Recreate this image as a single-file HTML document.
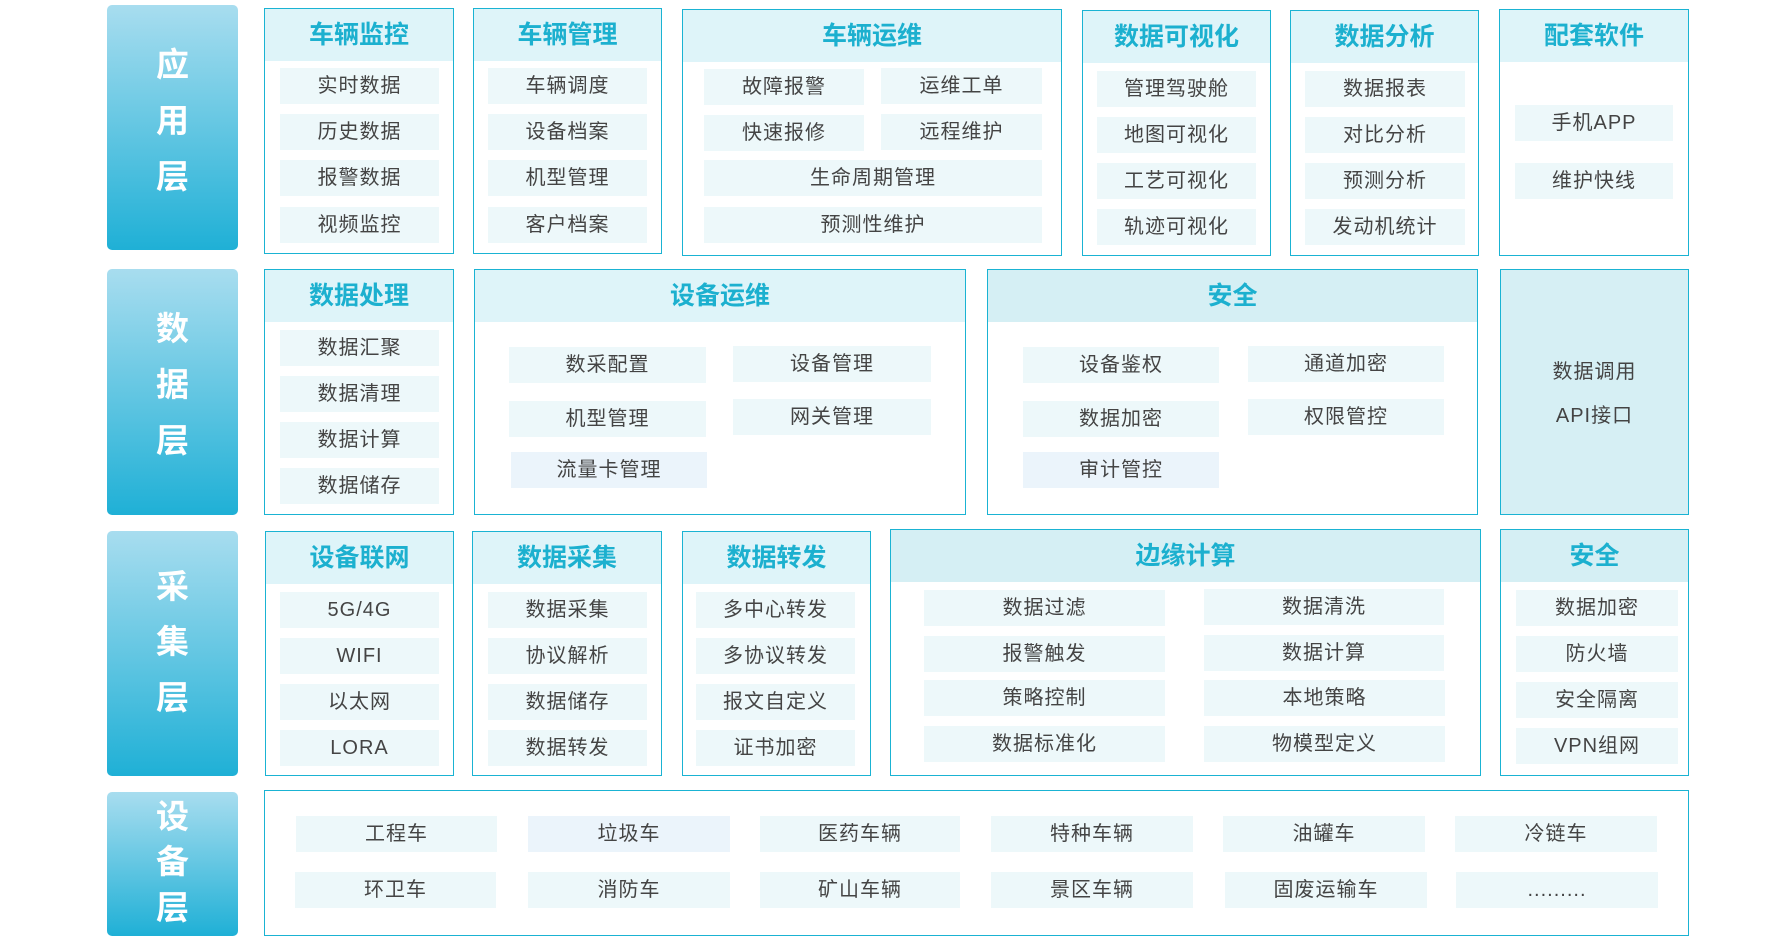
<!DOCTYPE html><html><head><meta charset="utf-8"><style>
body{margin:0;width:1790px;height:947px;background:#fff;position:relative;overflow:hidden;font-family:"Liberation Sans","Noto Sans CJK SC",sans-serif}
.s{position:absolute;left:107px;width:131px;border-radius:5px;background:linear-gradient(#a8ddef,#1fb0d6)}
.s span{position:absolute;left:0;width:131px;text-align:center;color:#fff;font-size:33px;font-weight:bold;line-height:40px}
.b{position:absolute;border:1.5px solid #1ab3d3;box-sizing:border-box;background:#fff}
.h{position:absolute;left:0;right:0;top:0;height:52px;line-height:52px;text-align:center;font-size:25px;font-weight:bold;color:#1cb0cf;background:#def4f9}
.h2{background:#d5eff4}
.i{position:absolute;background:#edf8fa;height:36px;line-height:36px;text-align:center;font-size:20px;color:#444;letter-spacing:1px}
.p{background:#ebf4fb}
</style></head><body>
<div class="s" style="top:5px;height:245px"><span style="top:40px">应</span><span style="top:96px">用</span><span style="top:152px">层</span></div>
<div class="s" style="top:269px;height:246px"><span style="top:309px;top:40px">数</span><span style="top:96px">据</span><span style="top:152px">层</span></div>
<div class="s" style="top:531px;height:245px"><span style="top:36px">采</span><span style="top:91px">集</span><span style="top:147px">层</span></div>
<div class="s" style="top:792px;height:144px"><span style="top:5px">设</span><span style="top:50px">备</span><span style="top:96px">层</span></div>

<div class="b" style="left:264px;top:8px;width:190px;height:246px"><div class="h">车辆监控</div></div>
<div class="b" style="left:473px;top:8px;width:189px;height:246px"><div class="h">车辆管理</div></div>
<div class="b" style="left:682px;top:9px;width:380px;height:247px"><div class="h">车辆运维</div></div>
<div class="b" style="left:1082px;top:10px;width:189px;height:246px"><div class="h">数据可视化</div></div>
<div class="b" style="left:1290px;top:10px;width:189px;height:246px"><div class="h">数据分析</div></div>
<div class="b" style="left:1499px;top:9px;width:190px;height:247px"><div class="h">配套软件</div></div>

<div class="i" style="left:280px;top:68px;width:159px">实时数据</div>
<div class="i" style="left:280px;top:114px;width:159px">历史数据</div>
<div class="i" style="left:280px;top:160px;width:159px">报警数据</div>
<div class="i" style="left:280px;top:207px;width:159px">视频监控</div>
<div class="i" style="left:488px;top:68px;width:159px">车辆调度</div>
<div class="i" style="left:488px;top:114px;width:159px">设备档案</div>
<div class="i" style="left:488px;top:160px;width:159px">机型管理</div>
<div class="i" style="left:488px;top:207px;width:159px">客户档案</div>
<div class="i" style="left:704px;top:69px;width:160px">故障报警</div>
<div class="i" style="left:881px;top:68px;width:161px">运维工单</div>
<div class="i" style="left:704px;top:115px;width:160px">快速报修</div>
<div class="i" style="left:881px;top:114px;width:161px">远程维护</div>
<div class="i" style="left:704px;top:160px;width:338px">生命周期管理</div>
<div class="i" style="left:704px;top:207px;width:338px">预测性维护</div>
<div class="i" style="left:1097px;top:71px;width:159px">管理驾驶舱</div>
<div class="i" style="left:1097px;top:117px;width:159px">地图可视化</div>
<div class="i" style="left:1097px;top:163px;width:159px">工艺可视化</div>
<div class="i" style="left:1097px;top:209px;width:159px">轨迹可视化</div>
<div class="i" style="left:1305px;top:71px;width:160px">数据报表</div>
<div class="i" style="left:1305px;top:117px;width:160px">对比分析</div>
<div class="i" style="left:1305px;top:163px;width:160px">预测分析</div>
<div class="i" style="left:1305px;top:209px;width:160px">发动机统计</div>
<div class="i" style="left:1515px;top:105px;width:158px">手机APP</div>
<div class="i" style="left:1515px;top:163px;width:158px">维护快线</div>

<div class="b" style="left:264px;top:269px;width:190px;height:246px"><div class="h">数据处理</div></div>
<div class="b" style="left:474px;top:269px;width:492px;height:246px"><div class="h">设备运维</div></div>
<div class="b" style="left:987px;top:269px;width:491px;height:246px"><div class="h h2">安全</div></div>
<div class="b" style="left:1500px;top:269px;width:189px;height:246px;background:#d6eff4"></div>
<div style="position:absolute;left:1500px;top:350px;width:189px;text-align:center;font-size:20px;color:#444;line-height:44px;letter-spacing:1px">数据调用<br>API接口</div>

<div class="i" style="left:280px;top:330px;width:159px">数据汇聚</div>
<div class="i" style="left:280px;top:376px;width:159px">数据清理</div>
<div class="i" style="left:280px;top:422px;width:159px">数据计算</div>
<div class="i" style="left:280px;top:468px;width:159px">数据储存</div>
<div class="i" style="left:509px;top:347px;width:197px">数采配置</div>
<div class="i" style="left:733px;top:346px;width:198px">设备管理</div>
<div class="i" style="left:509px;top:401px;width:197px">机型管理</div>
<div class="i" style="left:733px;top:399px;width:198px">网关管理</div>
<div class="i p" style="left:511px;top:452px;width:196px">流量卡管理</div>
<div class="i" style="left:1023px;top:347px;width:196px">设备鉴权</div>
<div class="i" style="left:1248px;top:346px;width:196px">通道加密</div>
<div class="i" style="left:1023px;top:401px;width:196px">数据加密</div>
<div class="i" style="left:1248px;top:399px;width:196px">权限管控</div>
<div class="i p" style="left:1023px;top:452px;width:196px">审计管控</div>

<div class="b" style="left:265px;top:531px;width:189px;height:245px"><div class="h">设备联网</div></div>
<div class="b" style="left:472px;top:531px;width:190px;height:245px"><div class="h">数据采集</div></div>
<div class="b" style="left:682px;top:531px;width:189px;height:245px"><div class="h">数据转发</div></div>
<div class="b" style="left:890px;top:529px;width:591px;height:247px"><div class="h h2">边缘计算</div></div>
<div class="b" style="left:1500px;top:529px;width:189px;height:247px"><div class="h h2">安全</div></div>

<div class="i" style="left:280px;top:592px;width:159px">5G/4G</div>
<div class="i" style="left:280px;top:638px;width:159px">WIFI</div>
<div class="i" style="left:280px;top:684px;width:159px">以太网</div>
<div class="i" style="left:280px;top:730px;width:159px">LORA</div>
<div class="i" style="left:488px;top:592px;width:159px">数据采集</div>
<div class="i" style="left:488px;top:638px;width:159px">协议解析</div>
<div class="i" style="left:488px;top:684px;width:159px">数据储存</div>
<div class="i" style="left:488px;top:730px;width:159px">数据转发</div>
<div class="i" style="left:696px;top:592px;width:159px">多中心转发</div>
<div class="i" style="left:696px;top:638px;width:159px">多协议转发</div>
<div class="i" style="left:696px;top:684px;width:159px">报文自定义</div>
<div class="i" style="left:696px;top:730px;width:159px">证书加密</div>
<div class="i" style="left:924px;top:590px;width:241px">数据过滤</div>
<div class="i" style="left:924px;top:636px;width:241px">报警触发</div>
<div class="i" style="left:924px;top:680px;width:241px">策略控制</div>
<div class="i" style="left:924px;top:726px;width:241px">数据标准化</div>
<div class="i" style="left:1204px;top:589px;width:240px">数据清洗</div>
<div class="i" style="left:1204px;top:635px;width:240px">数据计算</div>
<div class="i" style="left:1204px;top:680px;width:241px">本地策略</div>
<div class="i" style="left:1204px;top:726px;width:241px">物模型定义</div>
<div class="i" style="left:1516px;top:590px;width:162px">数据加密</div>
<div class="i" style="left:1516px;top:636px;width:162px">防火墙</div>
<div class="i" style="left:1516px;top:682px;width:162px">安全隔离</div>
<div class="i" style="left:1516px;top:728px;width:162px">VPN组网</div>

<div class="b" style="left:264px;top:790px;width:1425px;height:146px"></div>
<div class="i" style="left:296px;top:816px;width:201px">工程车</div>
<div class="i p" style="left:528px;top:816px;width:202px">垃圾车</div>
<div class="i" style="left:760px;top:816px;width:200px">医药车辆</div>
<div class="i" style="left:991px;top:816px;width:202px">特种车辆</div>
<div class="i" style="left:1223px;top:816px;width:202px">油罐车</div>
<div class="i" style="left:1455px;top:816px;width:202px">冷链车</div>
<div class="i" style="left:295px;top:872px;width:201px">环卫车</div>
<div class="i" style="left:528px;top:872px;width:202px">消防车</div>
<div class="i" style="left:760px;top:872px;width:200px">矿山车辆</div>
<div class="i" style="left:991px;top:872px;width:202px">景区车辆</div>
<div class="i" style="left:1225px;top:872px;width:202px">固废运输车</div>
<div class="i" style="left:1456px;top:872px;width:202px">.........</div>
</body></html>
